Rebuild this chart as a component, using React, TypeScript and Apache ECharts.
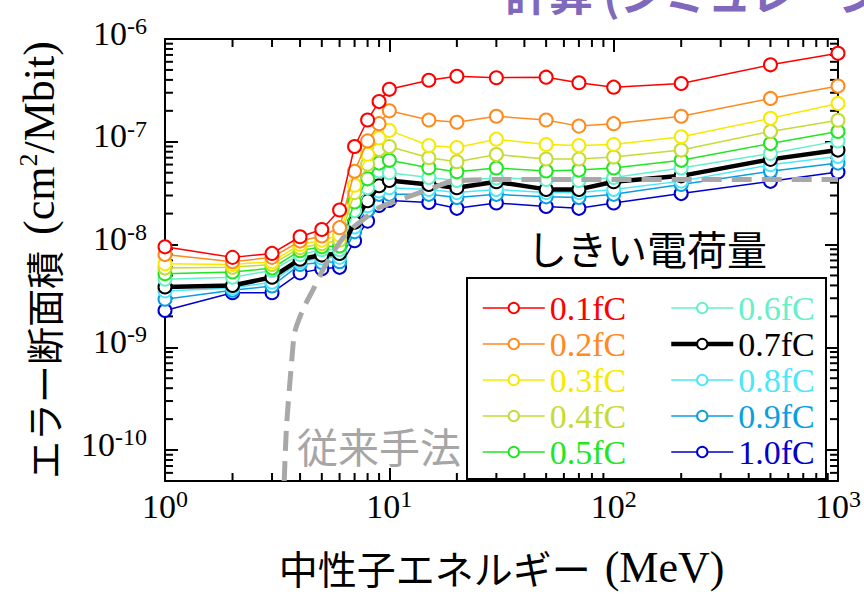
import React, { useEffect, useRef } from 'react';
import * as echarts from 'echarts';

// Neutron energy points (MeV)
const energies = [1, 2, 3, 4, 5, 6, 7, 8, 9, 10, 15, 20, 30, 50, 70, 100, 200, 500, 1000];

// Critical charge labels and their colours
const thresholds = ['0.1fC', '0.2fC', '0.3fC', '0.4fC', '0.5fC', '0.6fC', '0.7fC', '0.8fC', '0.9fC', '1.0fC'];
const colors = ['#ff0000', '#ff8a1e', '#f7ea00', '#c4dc34', '#22e622', '#66f0c8', '#000000', '#4ee6fa', '#0a9fe0', '#0000cc'];

// Error cross section (cm^2/Mbit) per critical charge
const sigma01 = [9.5e-9, 7.5e-9, 8.2e-9, 1.19e-8, 1.4e-8, 2.17e-8, 9.0e-8, 1.63e-7, 2.46e-7, 3.24e-7, 3.97e-7, 4.34e-7, 4.2e-7, 4.25e-7, 3.75e-7, 3.4e-7, 3.69e-7, 5.61e-7, 7.26e-7];
const sigma02 = [8.0e-9, 6.8e-9, 7.5e-9, 1.08e-8, 1.21e-8, 1.46e-8, 5.16e-8, 1.02e-7, 1.5e-7, 2.0e-7, 1.63e-7, 1.55e-7, 1.77e-7, 1.63e-7, 1.42e-7, 1.5e-7, 1.77e-7, 2.64e-7, 3.48e-7];
const sigma03 = [6.5e-9, 6.4e-9, 6.8e-9, 1.0e-8, 1.1e-8, 1.23e-8, 3.78e-8, 7.56e-8, 1.09e-7, 1.29e-7, 9.2e-8, 8.8e-8, 1.06e-7, 9.4e-8, 9.2e-8, 9.4e-8, 1.12e-7, 1.69e-7, 2.36e-7];
const sigma04 = [5.9e-9, 6.0e-9, 6.4e-9, 9.3e-9, 1.02e-8, 1.1e-8, 3.2e-8, 6.06e-8, 8.4e-8, 9.0e-8, 7.0e-8, 6.4e-8, 7.5e-8, 6.8e-8, 6.8e-8, 7.1e-8, 8.3e-8, 1.26e-7, 1.62e-7];
const sigma05 = [5.2e-9, 5.4e-9, 5.9e-9, 8.7e-9, 9.5e-9, 9.7e-9, 2.6e-8, 4.36e-8, 6.2e-8, 6.6e-8, 5.6e-8, 5.1e-8, 5.55e-8, 5.2e-8, 5.3e-8, 5.55e-8, 6.6e-8, 9.6e-8, 1.26e-7];
const sigma06 = [4.6e-9, 4.8e-9, 5.6e-9, 8.0e-9, 8.9e-9, 8.9e-9, 2.14e-8, 3.57e-8, 5.2e-8, 5.0e-8, 4.5e-8, 4.2e-8, 4.45e-8, 4.3e-8, 4.2e-8, 4.5e-8, 5.55e-8, 7.7e-8, 1.02e-7];
const sigma07 = [3.86e-9, 4.0e-9, 4.8e-9, 7.2e-9, 7.9e-9, 8.2e-9, 1.65e-8, 2.67e-8, 3.73e-8, 4.2e-8, 3.84e-8, 3.57e-8, 4.08e-8, 3.44e-8, 3.44e-8, 4.08e-8, 4.66e-8, 6.74e-8, 8.3e-8];
const sigma08 = [3.54e-9, 3.78e-9, 4.3e-9, 6.8e-9, 7.4e-9, 7.5e-9, 1.48e-8, 2.39e-8, 3.32e-8, 3.57e-8, 3.44e-8, 3.2e-8, 3.44e-8, 3.2e-8, 3.2e-8, 3.44e-8, 4.14e-8, 5.97e-8, 7.2e-8];
const sigma09 = [2.94e-9, 3.59e-9, 3.95e-9, 6.4e-9, 6.7e-9, 6.8e-9, 1.33e-8, 2.14e-8, 3.08e-8, 3.08e-8, 3.08e-8, 2.87e-8, 3.08e-8, 2.91e-8, 2.87e-8, 3.08e-8, 3.84e-8, 5.16e-8, 6.2e-8];
const sigma10 = [2.28e-9, 3.4e-9, 3.4e-9, 5.3e-9, 5.8e-9, 6.0e-9, 1.09e-8, 1.69e-8, 2.4e-8, 2.68e-8, 2.57e-8, 2.25e-8, 2.54e-8, 2.35e-8, 2.25e-8, 2.54e-8, 3.13e-8, 4.12e-8, 5.08e-8];
const sigmas = [sigma01, sigma02, sigma03, sigma04, sigma05, sigma06, sigma07, sigma08, sigma09, sigma10];

// Conventional method curve
const convEnergy = [3.4, 3.48, 3.67, 3.79, 4.13, 4.58, 5.25, 6.44, 7.91, 9.07, 11.9, 15.7, 19.2, 31, 1000];
const convSigma = [5.0e-11, 1.68e-10, 7.28e-10, 1.41e-9, 2.36e-9, 3.67e-9, 6.6e-9, 1.28e-8, 1.85e-8, 2.3e-8, 2.87e-8, 3.57e-8, 4.14e-8, 4.29e-8, 4.3e-8];

// Axis ranges and minor tick positions
const X_MIN = 1;
const X_MAX = 1000;
const Y_MIN = 5e-11;
const Y_MAX = 1e-6;
const xMinorTicks = [2, 3, 4, 5, 6, 7, 8, 9, 20, 30, 40, 50, 60, 70, 80, 90, 200, 300, 400, 500, 600, 700, 800, 900];
const yMinorTicks = [
  6e-11, 7e-11, 8e-11, 9e-11,
  2e-10, 3e-10, 4e-10, 5e-10, 6e-10, 7e-10, 8e-10, 9e-10,
  2e-9, 3e-9, 4e-9, 5e-9, 6e-9, 7e-9, 8e-9, 9e-9,
  2e-8, 3e-8, 4e-8, 5e-8, 6e-8, 7e-8, 8e-8, 9e-8,
  2e-7, 3e-7, 4e-7, 5e-7, 6e-7, 7e-7, 8e-7, 9e-7,
];

const SERIF = '"Liberation Serif", "Times New Roman", serif';
const GOTHIC = '"Noto Sans CJK JP", "Noto Sans", sans-serif';

const powerLabel = (v: number) => {
  const lg = Math.log10(v);
  const e = Math.round(lg);
  if (Math.abs(lg - e) > 1e-6) return '';
  return `{b|10}{s|${e}}`;
};

const labelRich = {
  b: { fontFamily: SERIF, fontSize: 34, lineHeight: 36, color: '#000', verticalAlign: 'bottom' },
  s: { fontFamily: SERIF, fontSize: 24, lineHeight: 24, color: '#000', verticalAlign: 'top' },
};

const axisLineStyle = { color: '#000', width: 2 };
const tickStyle = { show: true, inside: true, length: 13, lineStyle: { color: '#000', width: 2 } };

const lineWidthOf = (name: string) => (name === '0.7fC' ? 4.5 : 1.5);

export default function App() {
  const ref = useRef<HTMLDivElement>(null);

  useEffect(() => {
    if (!ref.current) return;
    const chart = echarts.init(ref.current, undefined, { renderer: 'svg' });

    const lineSeries = thresholds.map((name, i) => ({
      name,
      type: 'line',
      data: energies.map((e, k) => [e, sigmas[i][k]]),
      symbol: 'emptyCircle',
      symbolSize: 13,
      itemStyle: { color: colors[i], borderWidth: 2 },
      lineStyle: { color: colors[i], width: lineWidthOf(name) },
      z: 20 - i,
      xAxisIndex: 0,
      yAxisIndex: 0,
    }));

    const minorX = {
      type: 'custom',
      silent: true,
      clip: false,
      z: 6,
      xAxisIndex: 0,
      yAxisIndex: 0,
      data: xMinorTicks.map((v) => [v, Y_MIN]),
      renderItem: (_p: any, api: any) => {
        const v = api.value(0);
        const b = api.coord([v, Y_MIN]);
        const t = api.coord([v, Y_MAX]);
        const st = { stroke: '#000', lineWidth: 2 };
        return {
          type: 'group',
          children: [
            { type: 'line', shape: { x1: b[0], y1: b[1], x2: b[0], y2: b[1] - 8 }, style: st },
            { type: 'line', shape: { x1: t[0], y1: t[1], x2: t[0], y2: t[1] + 8 }, style: st },
          ],
        };
      },
    };

    const minorY = {
      type: 'custom',
      silent: true,
      clip: false,
      z: 6,
      xAxisIndex: 0,
      yAxisIndex: 0,
      data: yMinorTicks.map((v) => [X_MIN, v]),
      renderItem: (_p: any, api: any) => {
        const v = api.value(1);
        const l = api.coord([X_MIN, v]);
        const r = api.coord([X_MAX, v]);
        const st = { stroke: '#000', lineWidth: 2 };
        return {
          type: 'group',
          children: [
            { type: 'line', shape: { x1: l[0], y1: l[1], x2: l[0] + 8, y2: l[1] }, style: st },
            { type: 'line', shape: { x1: r[0], y1: r[1], x2: r[0] - 8, y2: r[1] }, style: st },
          ],
        };
      },
    };

    const conventional = {
      name: '従来手法',
      type: 'line',
      data: convEnergy.map((e, k) => [e, convSigma[k]]),
      symbol: 'none',
      smooth: 0.25,
      lineStyle: { color: '#a8a8a8', width: 5, type: [20, 10], cap: 'butt' },
      z: 30,
      xAxisIndex: 0,
      yAxisIndex: 0,
    };

    const legendBase = {
      orient: 'vertical',
      itemWidth: 62,
      itemHeight: 13,
      itemGap: 2,
      padding: 0,
      selectedMode: false,
      textStyle: { fontFamily: SERIF, fontSize: 34, lineHeight: 30 },
    };

    const legendItem = (n: string, i: number) => ({
      name: n,
      textStyle: { color: colors[i] },
      lineStyle: { width: lineWidthOf(n), color: colors[i] },
    });

    chart.setOption({
      animation: false,
      backgroundColor: '#ffffff',
      grid: { left: 165, right: 26, top: 39, bottom: 107, containLabel: false },
      xAxis: [
        {
          type: 'log',
          min: X_MIN,
          max: X_MAX,
          position: 'bottom',
          axisLine: { show: true, lineStyle: axisLineStyle },
          axisTick: tickStyle,
          splitLine: { show: false },
          axisLabel: { margin: 6, formatter: powerLabel, rich: labelRich },
          name: '{j|中性子エネルギー}{t|(MeV)}',
          nameLocation: 'middle',
          nameGap: 64,
          nameTextStyle: {
            rich: {
              j: { fontFamily: GOTHIC, fontSize: 39, color: '#000' },
              t: { fontFamily: SERIF, fontSize: 44, color: '#000', padding: [0, 0, 0, 14] },
            },
          },
        },
        {
          type: 'log',
          min: X_MIN,
          max: X_MAX,
          position: 'top',
          axisLine: { show: true, lineStyle: axisLineStyle },
          axisTick: tickStyle,
          splitLine: { show: false },
          axisLabel: { show: false },
        },
      ],
      yAxis: [
        {
          type: 'log',
          min: Y_MIN,
          max: Y_MAX,
          position: 'left',
          axisLine: { show: true, lineStyle: axisLineStyle },
          axisTick: tickStyle,
          splitLine: { show: false },
          axisLabel: { margin: 18, formatter: powerLabel, rich: labelRich, padding: [0, 0, 14, 0] },
          name: '{j|エラー断面積}{p|(cm}{s|2}{t|/Mbit)}',
          nameLocation: 'middle',
          nameGap: 104,
          nameTextStyle: {
            rich: {
              j: { fontFamily: GOTHIC, fontSize: 38, color: '#000', lineHeight: 46, verticalAlign: 'bottom' },
              p: { fontFamily: SERIF, fontSize: 44, color: '#000', lineHeight: 46, verticalAlign: 'bottom', padding: [0, 0, 0, 16] },
              t: { fontFamily: SERIF, fontSize: 44, color: '#000', lineHeight: 46, verticalAlign: 'bottom' },
              s: { fontFamily: SERIF, fontSize: 26, color: '#000', lineHeight: 26, verticalAlign: 'top' },
            },
          },
        },
        {
          type: 'log',
          min: Y_MIN,
          max: Y_MAX,
          position: 'right',
          axisLine: { show: true, lineStyle: axisLineStyle },
          axisTick: tickStyle,
          splitLine: { show: false },
          axisLabel: { show: false },
        },
      ],
      legend: [
        {
          ...legendBase,
          left: 482,
          top: 291,
          data: thresholds.slice(0, 5).map((n, i) => legendItem(n, i)),
        },
        {
          ...legendBase,
          left: 669,
          top: 291,
          data: thresholds.slice(5).map((n, i) => legendItem(n, i + 5)),
        },
      ],
      graphic: [
        {
          type: 'rect',
          z: 1,
          shape: { x: 467, y: 278, width: 359, height: 201 },
          style: { fill: '#ffffff', stroke: '#000', lineWidth: 2 },
        },
        {
          type: 'text',
          left: 527,
          top: 228,
          z: 40,
          style: { text: 'しきい電荷量', fontFamily: GOTHIC, fontSize: 40, fill: '#000' },
        },
        {
          type: 'text',
          left: 297,
          top: 424,
          z: 40,
          style: { text: '従来手法', fontFamily: GOTHIC, fontSize: 41, fill: '#a6a6a6' },
        },
        {
          // slide heading running off the top edge
          type: 'text',
          x: 505,
          y: 0,
          z: 40,
          style: {
            text: '計算 (シミュレーション)',
            x: 0,
            y: -30,
            fontFamily: GOTHIC,
            fontSize: 44,
            fontWeight: 'bold',
            fill: '#8068bd',
            verticalAlign: 'top',
          },
        },
      ],
      series: [...lineSeries, conventional, minorX, minorY],
    });

    return () => chart.dispose();
  }, []);

  return <div ref={ref} style={{ position: 'absolute', left: 0, top: 0, width: 864, height: 594 }} />;
}
